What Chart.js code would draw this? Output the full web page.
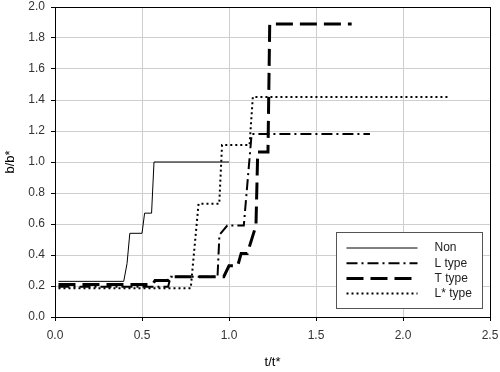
<!DOCTYPE html>
<html>
<head>
<meta charset="utf-8">
<script src="https://cdn.jsdelivr.net/npm/chart.js@4/dist/chart.umd.min.js"></script>
<style>
  body { margin: 0; background: #ffffff; }
  #wrap { width: 500px; height: 372px; }
</style>
</head>
<body>
<div id="wrap"><canvas id="bChart" width="500" height="372"></canvas></div>
<script>
// values (t/t*, b/b*)
const nonT = [0.02, 0.395, 0.414, 0.43, 0.50, 0.515, 0.555, 0.569, 1.0]
const nonB = [0.23, 0.23, 0.345, 0.54, 0.54, 0.67, 0.67, 1.0, 1.0]

const lT = [0.02, 0.65, 0.665, 0.934, 0.945, 0.99, 1.085, 1.13, 1.81]
const lB = [0.195, 0.195, 0.26, 0.26, 0.53, 0.59, 0.59, 1.18, 1.18]

const tT = [0.02, 0.56, 0.575, 0.65, 0.67, 0.97, 1.0, 1.05, 1.07, 1.105, 1.155, 1.165, 1.224, 1.234, 1.705]
const tB = [0.21, 0.21, 0.235, 0.235, 0.26, 0.26, 0.33, 0.33, 0.41, 0.41, 0.59, 1.065, 1.065, 1.89, 1.89]

const lsT = [0.02, 0.78, 0.825, 0.944, 0.96, 1.118, 1.137, 2.26]
const lsB = [0.185, 0.185, 0.73, 0.73, 1.11, 1.11, 1.42, 1.42]

const seriesNames = ['Non', 'L type', 'T type', 'L* type']

const xTicks = [0, 0.5, 1.0, 1.5, 2.0, 2.5]
const yTicks = [0, 0.2, 0.4, 0.6, 0.8, 1.0, 1.2, 1.4, 1.6, 1.8, 2.0]

const toPoints = (xs, ys) => xs.map((x, i) => ({ x: x, y: ys[i] }))

const fontFam = '"Liberation Sans", Arial, sans-serif'

const initChart = () => {
  const ctx = document.getElementById('bChart').getContext('2d')

	// box round the plot + the legend inside it
	let frame_plugin = {
		id: 'frame',
		afterDraw(chart) {
			const c = chart.ctx
			const a = chart.chartArea
			c.save()
			c.strokeStyle = '#000000'
			c.lineWidth = 1
			c.strokeRect(Math.round(a.left) + 0.5, Math.round(a.top) + 0.5,
				Math.round(a.right - a.left), Math.round(a.bottom - a.top))

			// legend
			const bw = 146, bh = 76
			const bx = Math.round(a.right - 8 - bw) + 0.5
			const by = Math.round(a.bottom - 9 - bh) + 0.5
			c.fillStyle = '#ffffff'
			c.fillRect(bx, by, bw, bh)
			c.strokeStyle = '#555555'
			c.strokeRect(bx, by, bw, bh)
			chart.data.datasets.forEach((ds, i) => {
				const yy = by + 15.5 + i * 15.2
				c.beginPath()
				c.setLineDash(ds.borderDash || [])
				c.lineWidth = ds.borderWidth
				c.strokeStyle = ds.borderColor
				c.moveTo(bx + 10, yy)
				c.lineTo(bx + 81, yy)
				c.stroke()
				c.setLineDash([])
				c.fillStyle = '#222222'
				c.font = '12px ' + fontFam
				c.textBaseline = 'middle'
				c.textAlign = 'left'
				c.fillText(ds.label, bx + 98, yy)
			})
			c.restore()
		}
	}

	let scales_chart = {
		x: {
			type: 'linear',
			min: 0,
			max: 2.5,
			afterBuildTicks: (scale) => { scale.ticks = xTicks.map(v => ({ value: v })) },
			afterFit: (scale) => {
				scale.height = 55
				scale.paddingLeft = 0
				scale.paddingRight = 0
			},
			title: {
				display: true,
				text: 't/t*',
				color: '#000000',
				font: { family: fontFam, size: 13 },
				padding: { top: 4, bottom: 2 }
			},
			grid: {
				color: '#cfcfcf',
				tickColor: '#000000',
				tickLength: 4
			},
			border: { color: '#000000', width: 1 },
			ticks: {
				color: '#333333',
				padding: 7,
				font: { family: fontFam, size: 12 },
				callback: function(value) {
					return value.toFixed(1)
				}
			}
		},
		y: {
			type: 'linear',
			min: 0,
			max: 2,
			afterBuildTicks: (scale) => { scale.ticks = yTicks.map(v => ({ value: v })) },
			afterFit: (scale) => {
				scale.width = 55
				scale.paddingTop = 0
				scale.paddingBottom = 0
			},
			title: {
				display: true,
				text: 'b/b*',
				color: '#000000',
				font: { family: fontFam, size: 13 },
				padding: { top: 3, bottom: 4 }
			},
			grid: {
				color: '#cfcfcf',
				tickColor: '#000000',
				tickLength: 4
			},
			border: { color: '#000000', width: 1 },
			ticks: {
				color: '#333333',
				padding: 6,
				font: { family: fontFam, size: 12 },
				callback: function(value) {
					return value.toFixed(1)
				}
			}
		}
	}

  chart = new Chart(ctx, {
    type: 'line',
      data: {
        datasets: [
          { label: seriesNames[0], data: toPoints(nonT, nonB), borderColor: '#000000', borderWidth: 1, borderDash: [] },
          { label: seriesNames[1], data: toPoints(lT, lB), borderColor: '#000000', borderWidth: 2, borderDash: [11, 4, 2, 4] },
          { label: seriesNames[2], data: toPoints(tT, tB), borderColor: '#000000', borderWidth: 3, borderDash: [17, 7] },
          { label: seriesNames[3], data: toPoints(lsT, lsB), borderColor: '#000000', borderWidth: 2, borderDash: [2, 3] }
        ]
      },
      options: {
        responsive: false,
        animation: false,
        layout: { padding: { top: 7, right: 10, bottom: 0, left: 0 } },
        elements: { point: { radius: 0 }, line: { tension: 0, fill: false } },
        plugins: {
          legend: { display: false },
          tooltip: { enabled: false }
        },
        scales: scales_chart
      },
      plugins: [frame_plugin]
  })
}

initChart()
</script>
</body>
</html>
